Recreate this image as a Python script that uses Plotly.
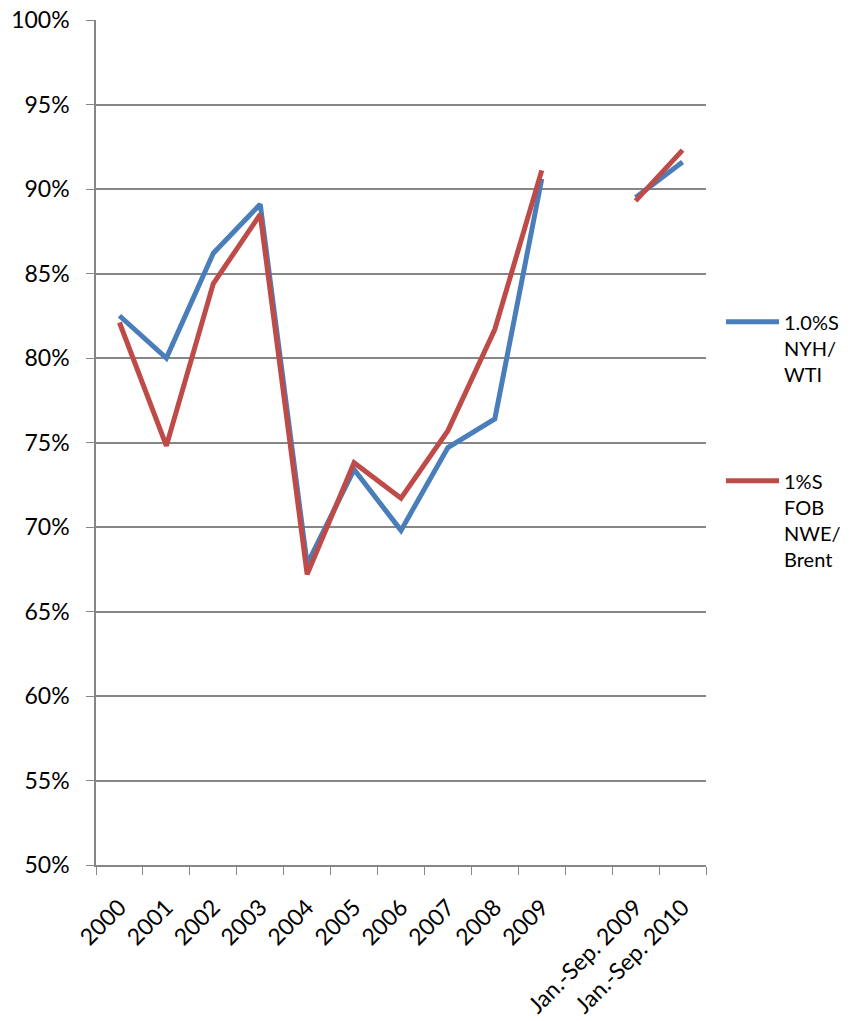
import plotly.graph_objects as go

categories = ["2000", "2001", "2002", "2003", "2004", "2005", "2006", "2007",
              "2008", "2009", " ", "Jan.-Sep. 2009", "Jan.-Sep. 2010"]

nyh_wti = [0.825, 0.800, 0.862, 0.891, 0.678, 0.734, 0.698, 0.747,
           0.764, 0.906, None, 0.895, 0.916]
nwe_brent = [0.821, 0.748, 0.844, 0.885, 0.672, 0.738, 0.717, 0.757,
             0.817, 0.911, None, 0.893, 0.923]

series_names = ["1.0%S<br>NYH/<br>WTI", "1%S<br>FOB<br>NWE/<br>Brent"]
colors = ["#4A7EBB", "#BE4B48"]

grid_color = "#868686"
font_family = "Lato, 'Open Sans', sans-serif"

fig = go.Figure()

for name, values, color in zip(series_names, [nyh_wti, nwe_brent], colors):
    fig.add_trace(
        go.Scatter(
            x=categories,
            y=values,
            name=name,
            legendgroup=name,
            mode="lines",
            line={"color": color, "width": 5},
            connectgaps=False,
        )
    )

# the page body adds an 8px margin, so the figure is sized to fit inside
# the window and the margins are shifted to compensate
fig.update_layout(
    width=838,
    height=1013,
    margin={"l": 88, "r": 140, "t": 12, "b": 156, "autoexpand": False},
    plot_bgcolor="white",
    paper_bgcolor="white",
    font={"family": font_family, "size": 23, "color": "#000000"},
    showlegend=True,
    legend={
        "x": 1.0246,
        "xanchor": "left",
        "y": 0.666,
        "yanchor": "top",
        "valign": "top",
        "itemwidth": 53,
        "font": {"size": 20},
        "tracegroupgap": 78,
        "bgcolor": "rgba(0,0,0,0)",
    },
    xaxis={
        "type": "category",
        "categoryorder": "array",
        "categoryarray": categories,
        "range": [-0.5, len(categories) - 0.5],
        "tickangle": -45,
        "tickson": "boundaries",
        "ticks": "outside",
        "ticklen": 8,
        "tickcolor": grid_color,
        "ticklabelstandoff": 18,
        "ticklabeloverflow": "allow",
        "showgrid": False,
        "showline": True,
        "linecolor": grid_color,
        "linewidth": 1.5,
        "zeroline": False,
        "automargin": False,
        "tickfont": {"size": 23},
    },
    yaxis={
        "range": [0.5, 1.0],
        "dtick": 0.05,
        "tick0": 0.5,
        "tickformat": ".0%",
        "ticks": "outside",
        "ticklen": 8,
        "tickcolor": grid_color,
        "ticklabelstandoff": 12,
        "ticklabeloverflow": "allow",
        "showgrid": True,
        "gridcolor": grid_color,
        "gridwidth": 1.5,
        "showline": True,
        "linecolor": grid_color,
        "linewidth": 1.5,
        "zeroline": False,
        "automargin": False,
        "tickfont": {"size": 23},
    },
)

fig.write_html("out.html")
